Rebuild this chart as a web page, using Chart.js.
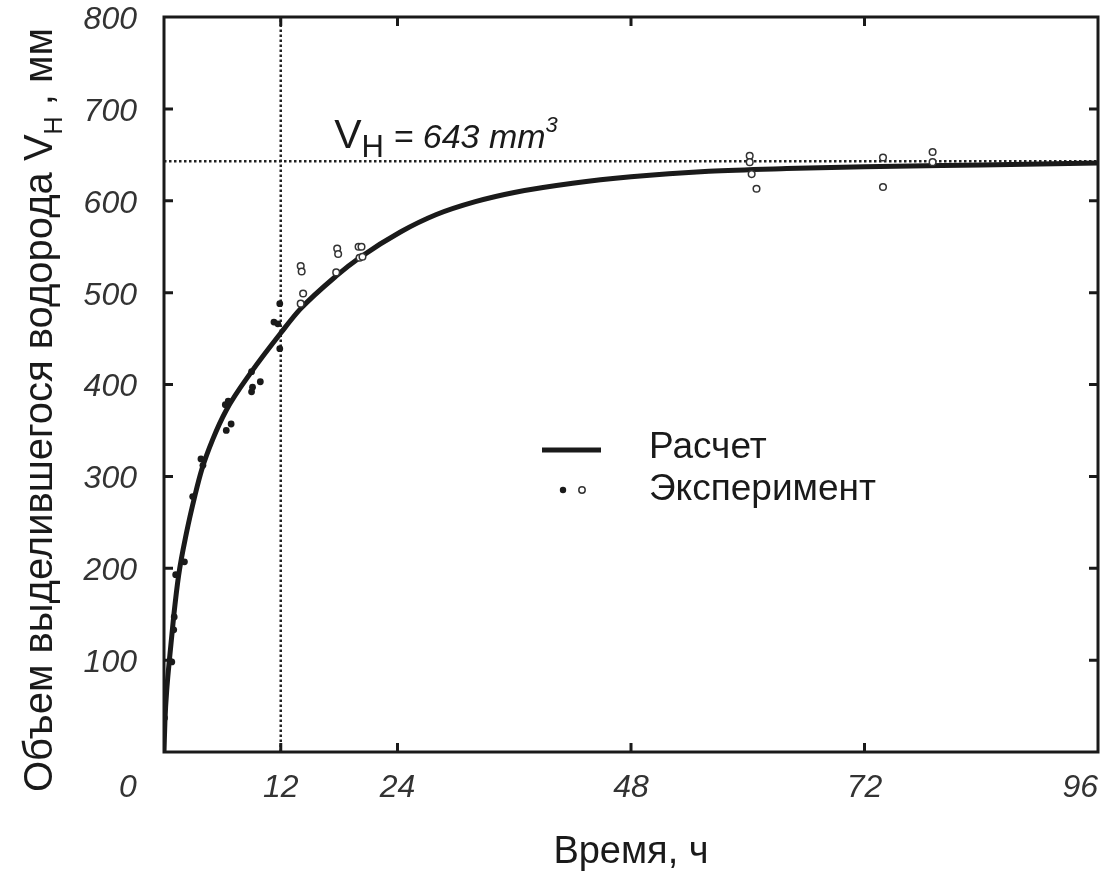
<!DOCTYPE html>
<html>
<head>
<meta charset="utf-8">
<title>Объем выделившегося водорода</title>
<script src="https://cdn.jsdelivr.net/npm/chart.js@4.4.1/dist/chart.umd.min.js"></script>
<style>
    html, body { margin: 0; padding: 0; background: #fff; }
    #chart { display: block; }
</style>
</head>
<body>
<canvas id="chart" width="1114" height="871"></canvas>
<script>
// Axis ticks
const timeTicks = [0, 12, 24, 48, 72, 96];
const volumeTicks = [100, 200, 300, 400, 500, 600, 700, 800];

// Calculated curve
const calcTime = [0, 0.1, 0.3, 0.6, 1.0, 1.5, 2.3, 3.2, 3.9, 5.0, 6.4, 9.0, 12.0, 14.0, 17.8, 20.1, 24.3, 28, 32, 36, 42, 48, 56, 64, 72, 84, 96];
const calcVolume = [0, 35, 70, 105, 148, 192, 238, 280, 308, 340, 372, 414, 456, 482, 519, 538, 566, 585, 599, 609, 619, 626, 632, 635, 637, 639, 641];

// Experiment, filled dots
const expTimeFilled = [0.05, 0.05, 0.8, 1.0, 1.05, 1.2, 2.1, 2.95, 3.8, 4.0, 6.3, 6.6, 6.4, 6.9, 9.0, 9.1, 9.9, 9.0, 11.3, 11.7, 11.9, 11.9];
const expVolumeFilled = [37, 53, 98, 133, 147, 193, 207, 278, 319, 312, 378, 382, 350, 357, 392, 397, 403, 414, 468, 466, 488, 439];

// Experiment, open circles
const expTimeOpen = [14.05, 14.15, 14.3, 14.05, 17.8, 17.9, 17.7, 20.0, 20.3, 20.1, 20.4, 60.2, 60.2, 60.4, 60.9, 73.9, 73.9, 79.0, 79.0];
const expVolumeOpen = [529, 523, 499, 488, 548, 542, 522, 550, 550, 538, 539, 649, 642, 629, 613, 647, 615, 653, 642];

// Dotted reference lines
const vMax = 643;
const tMark = 12;

const FONT = '"Liberation Sans", Arial, Helvetica, sans-serif';
const INK = '#1a1a1a';

function toPoints(xs, ys) {
    return xs.map((x, i) => ({ x: x, y: ys[i] }));
}

// Draw text made of pieces (for subscripts / superscripts)
function drawRich(ctx, parts, x, y) {
    let cx = x;
    parts.forEach(p => {
        ctx.font = p.font;
        ctx.fillText(p.text, cx, y + (p.dy || 0));
        cx += ctx.measureText(p.text).width;
    });
}

// Frame, inward ticks, titles, annotation and legend
const decorPlugin = {
    id: 'decor',
    afterDatasetsDraw(chart) {
        const ctx = chart.ctx;
        const area = chart.chartArea;
        const xs = chart.scales.x;
        const ys = chart.scales.y;

        ctx.save();
        ctx.strokeStyle = INK;
        ctx.fillStyle = INK;

        // frame
        ctx.lineWidth = 3;
        ctx.strokeRect(area.left, area.top, area.right - area.left, area.bottom - area.top);

        // ticks pointing inside
        ctx.beginPath();
        timeTicks.slice(1, -1).forEach(t => {
            const px = xs.getPixelForValue(t);
            ctx.moveTo(px, area.bottom);
            ctx.lineTo(px, area.bottom - 9);
            ctx.moveTo(px, area.top);
            ctx.lineTo(px, area.top + 9);
        });
        volumeTicks.slice(0, -1).forEach(v => {
            const py = ys.getPixelForValue(v);
            ctx.moveTo(area.left, py);
            ctx.lineTo(area.left + 9, py);
            ctx.moveTo(area.right, py);
            ctx.lineTo(area.right - 9, py);
        });
        ctx.stroke();

        // origin label
        ctx.fillStyle = '#333';
        ctx.font = 'italic 32px ' + FONT;
        ctx.textAlign = 'center';
        ctx.textBaseline = 'middle';
        ctx.fillText('0', area.left - 36, area.bottom + 36);

        // x title
        ctx.fillStyle = INK;
        ctx.font = '38px ' + FONT;
        ctx.textBaseline = 'alphabetic';
        ctx.fillText('Время, ч', (area.left + area.right) / 2, 863);

        // y title, rotated, with subscript
        ctx.save();
        ctx.translate(52, 792);
        ctx.rotate(-Math.PI / 2);
        ctx.textAlign = 'left';
        drawRich(ctx, [
            { text: 'Объем выделившегося водорода V', font: '40px ' + FONT },
            { text: 'H', font: '25px ' + FONT, dy: 10 },
            { text: ' , мм', font: '40px ' + FONT }
        ], 0, 0);
        ctx.restore();

        // V_H annotation above the dotted line
        ctx.textAlign = 'left';
        drawRich(ctx, [
            { text: 'V', font: '41px ' + FONT },
            { text: 'H', font: '31px ' + FONT, dy: 9 },
            { text: ' = 643 mm', font: 'italic 34px ' + FONT },
            { text: '3', font: 'italic 22px ' + FONT, dy: -16 }
        ], xs.getPixelForValue(17.5), ys.getPixelForValue(vMax) - 13);

        // legend
        ctx.lineWidth = 5;
        ctx.beginPath();
        ctx.moveTo(542, 450);
        ctx.lineTo(601, 450);
        ctx.stroke();
        ctx.beginPath();
        ctx.arc(563, 490, 3.2, 0, Math.PI * 2);
        ctx.fill();
        ctx.lineWidth = 1.5;
        ctx.strokeStyle = '#333';
        ctx.beginPath();
        ctx.arc(582, 490, 3.2, 0, Math.PI * 2);
        ctx.stroke();
        ctx.font = '37px ' + FONT;
        ctx.textBaseline = 'alphabetic';
        ctx.fillText('Расчет', 649, 458);
        ctx.fillText('Эксперимент', 649, 500);

        ctx.restore();
    }
};

const ctx = document.getElementById('chart').getContext('2d');

new Chart(ctx, {
    type: 'scatter',
    data: {
        datasets: [
            {
                label: 'Эксперимент',
                data: toPoints(expTimeOpen, expVolumeOpen),
                pointRadius: 3.3,
                pointBackgroundColor: '#fff',
                pointBorderColor: '#333',
                pointBorderWidth: 1.5
            },
            {
                label: 'Эксперимент',
                data: toPoints(expTimeFilled, expVolumeFilled),
                pointRadius: 3.4,
                pointBackgroundColor: INK,
                pointBorderWidth: 0
            },
            {
                label: 'Расчет',
                type: 'line',
                data: toPoints(calcTime, calcVolume),
                borderColor: INK,
                borderWidth: 5,
                pointRadius: 0,
                fill: false,
                cubicInterpolationMode: 'monotone'
            },
            {
                label: 'V_H',
                type: 'line',
                data: [{ x: 0, y: vMax }, { x: 96, y: vMax }],
                borderColor: '#222',
                borderWidth: 2.5,
                borderDash: [2.5, 2.5],
                pointRadius: 0
            },
            {
                label: 't',
                type: 'line',
                data: [{ x: tMark, y: 0 }, { x: tMark, y: 800 }],
                borderColor: '#222',
                borderWidth: 2.5,
                borderDash: [2.5, 2.5],
                pointRadius: 0
            }
        ]
    },
    options: {
        responsive: false,
        animation: false,
        devicePixelRatio: 1,
        layout: { padding: { top: 17, right: 16, left: 0, bottom: 0 } },
        plugins: {
            legend: { display: false },
            tooltip: { enabled: false }
        },
        scales: {
            x: {
                type: 'linear',
                min: 0,
                max: 96,
                grid: { display: false, drawTicks: false },
                border: { display: false },
                afterBuildTicks: scale => { scale.ticks = timeTicks.map(v => ({ value: v })); },
                afterFit: scale => {
                    scale.height = 119;
                    scale.paddingLeft = 0;
                    scale.paddingRight = 0;
                },
                ticks: {
                    autoSkip: false,
                    maxRotation: 0,
                    align: 'inner',
                    padding: 17,
                    color: '#333',
                    font: { family: FONT, size: 32, style: 'italic' },
                    callback: v => (v === 0 ? '' : v)
                }
            },
            y: {
                type: 'linear',
                min: 0,
                max: 800,
                grid: { display: false, drawTicks: false },
                border: { display: false },
                afterBuildTicks: scale => { scale.ticks = volumeTicks.map(v => ({ value: v })); },
                afterFit: scale => {
                    scale.width = 164;
                    scale.paddingTop = 0;
                    scale.paddingBottom = 0;
                },
                ticks: {
                    autoSkip: false,
                    padding: 27,
                    labelOffset: 3,
                    color: '#333',
                    font: { family: FONT, size: 32, style: 'italic' }
                }
            }
        }
    },
    plugins: [decorPlugin]
});
</script>
</body>
</html>
